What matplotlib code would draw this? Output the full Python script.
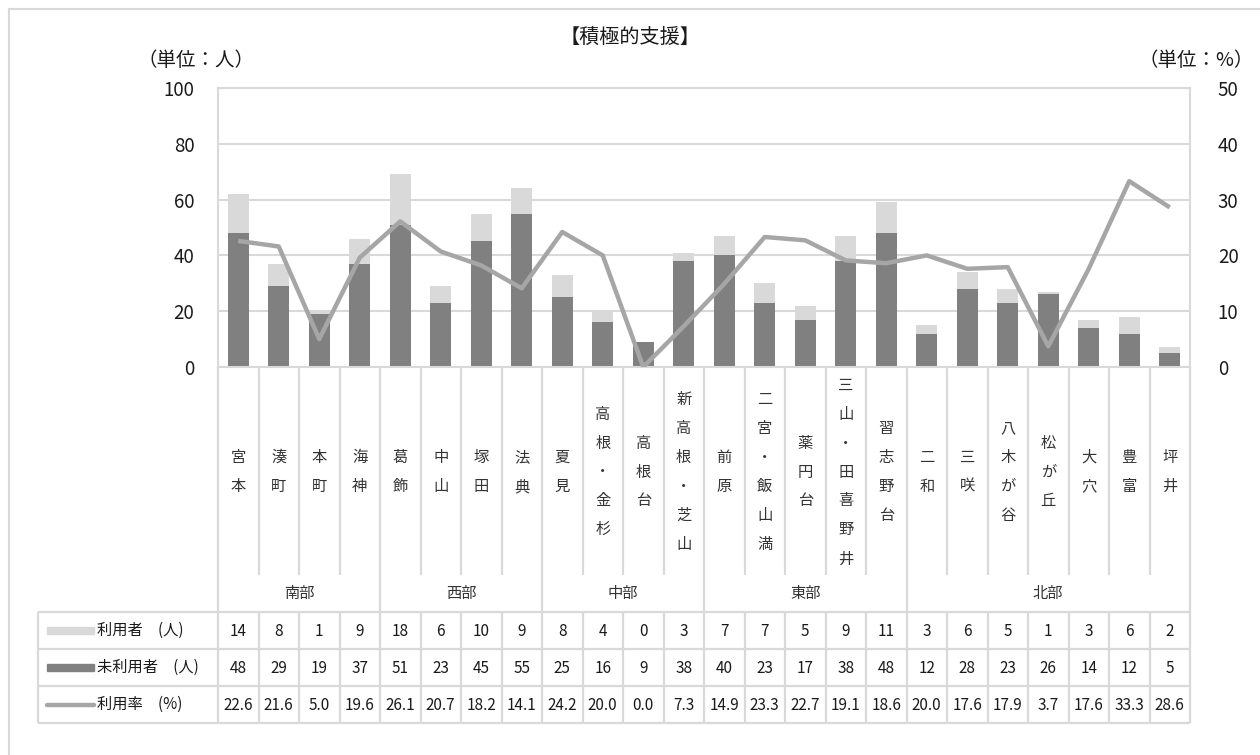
import numpy as np
import matplotlib
matplotlib.use('Agg')
import matplotlib.pyplot as plt
from matplotlib.lines import Line2D
from matplotlib.patches import Rectangle

plt.rcParams['font.family'] = ['Noto Sans CJK JP', 'DejaVu Sans']

# data
areas = ['宮本', '湊町', '本町', '海神', '葛飾', '中山', '塚田', '法典',
         '夏見', '高根・金杉', '高根台', '新高根・芝山', '前原', '二宮・飯山満',
         '薬円台', '三山・田喜野井', '習志野台', '二和', '三咲', '八木が谷',
         '松が丘', '大穴', '豊富', '坪井']
regions = ['南部', '西部', '中部', '東部', '北部']
region_sizes = [4, 4, 4, 5, 7]
users = [14, 8, 1, 9, 18, 6, 10, 9, 8, 4, 0, 3, 7, 7, 5, 9, 11, 3, 6, 5, 1, 3, 6, 2]
non_users = [48, 29, 19, 37, 51, 23, 45, 55, 25, 16, 9, 38, 40, 23, 17, 38, 48,
             12, 28, 23, 26, 14, 12, 5]
rate = [22.6, 21.6, 5.0, 19.6, 26.1, 20.7, 18.2, 14.1, 24.2, 20.0, 0.0, 7.3,
        14.9, 23.3, 22.7, 19.1, 18.6, 20.0, 17.6, 17.9, 3.7, 17.6, 33.3, 28.6]
series_names = ['利用者\u3000(人)', '未利用者\u3000(人)', '利用率\u3000(%)']

C_USER = '#d9d9d9'
C_NON = '#808080'
C_RATE = '#a6a6a6'
C_GRID = '#d9d9d9'
C_TXT = '#1a1a1a'

W, H = 1260, 755
fig = plt.figure(figsize=(W / 100, H / 100), dpi=100)
fig.patch.set_facecolor('white')


def fx(px):
    return px / W


def fy(py):
    return 1 - py / H


# plot area in pixels
L, R, T, B = 218, 1190, 88, 367
ax = fig.add_axes([fx(L), fy(B), fx(R - L), (B - T) / H])
x = np.arange(len(areas))
ax.bar(x, non_users, width=0.52, color=C_NON, zorder=2)
ax.bar(x, users, width=0.52, bottom=non_users, color=C_USER, zorder=2)
ax.set_xlim(-0.5, len(areas) - 0.5)
ax.set_ylim(0, 100)
ax.set_yticks(range(0, 101, 20))
ax.set_xticks([])
ax.grid(axis='y', color=C_GRID, lw=1.5, zorder=0)
ax.tick_params(axis='y', length=0, pad=17, labelsize=13.5, labelcolor=C_TXT)
for s in ax.spines.values():
    s.set_color(C_GRID)
    s.set_linewidth(1.5)

ax2 = ax.twinx()
ax2.plot(x, rate, color=C_RATE, lw=3.2, solid_capstyle='butt', zorder=3)
ax2.set_ylim(0, 50)
ax2.set_yticks(range(0, 51, 10))
ax2.tick_params(axis='y', length=0, pad=20, labelsize=13.5, labelcolor=C_TXT)
for s in ax2.spines.values():
    s.set_visible(False)

# table below the chart
px_per = (R - L) / len(areas)


def tx(px):
    return -0.5 + (px - L) / px_per


TL, TB = 38, 723
tab = fig.add_axes([fx(TL), fy(TB), fx(R - TL), (TB - B) / H])
tab.set_xlim(tx(TL), tx(R))
tab.set_ylim(TB, B)
tab.axis('off')

cat_bottom = 575
row_lines = [612, 649, 686, 723]
lc = dict(color=C_GRID, lw=1.6, clip_on=False, solid_capstyle='butt')

bounds = np.cumsum([0] + region_sizes) - 0.5
for k in range(len(areas) + 1):
    xb = k - 0.5
    if xb in bounds:
        tab.plot([xb, xb], [B, TB], **lc)
    else:
        tab.plot([xb, xb], [B, cat_bottom], **lc)
        tab.plot([xb, xb], [row_lines[0], TB], **lc)
tab.plot([tx(TL), tx(TL)], [row_lines[0], TB], **lc)
for yl in row_lines:
    tab.plot([tx(TL), len(areas) - 0.5], [yl, yl], **lc)

for i, name in enumerate(areas):
    tab.text(i, 472, '\n'.join(name), ha='center', va='center',
             fontsize=11, linespacing=1.92, color='#333333')

for j, reg in enumerate(regions):
    tab.text((bounds[j] + bounds[j + 1]) / 2, 593, reg, ha='center',
             va='center', fontsize=11, color='#333333')

row_mid = [(row_lines[k] + row_lines[k + 1]) / 2 for k in range(3)]
rows = [[str(v) for v in users], [str(v) for v in non_users],
        [f'{v:.1f}' for v in rate]]
for k, vals in enumerate(rows):
    for i, v in enumerate(vals):
        tab.text(i, row_mid[k] + 1, v, ha='center', va='center',
                 fontsize=11, color=C_TXT)
    tab.text(tx(97), row_mid[k], series_names[k], ha='left', va='center',
             fontsize=11, color=C_TXT)

# legend keys
sw0, sw1 = tx(47), tx(94)
tab.add_patch(Rectangle((sw0, row_mid[0] - 3.5), sw1 - sw0, 7,
                        color=C_USER, clip_on=False))
tab.add_patch(Rectangle((sw0, row_mid[1] - 3.5), sw1 - sw0, 7,
                        color=C_NON, clip_on=False))
tab.plot([sw0, sw1], [row_mid[2], row_mid[2]], color=C_RATE, lw=3.2,
         solid_capstyle='round', clip_on=False)

# titles
fig.text(fx(630), fy(37), '【積極的支援】', ha='center', va='center',
         fontsize=14.5, color=C_TXT)
fig.text(fx(196), fy(61), '（単位：人）', ha='center', va='center',
         fontsize=14, color=C_TXT)
fig.text(fx(1254), fy(61), '（単位：%）', ha='right', va='center',
         fontsize=14, color=C_TXT)

# outer frame
fig.add_artist(Line2D([fx(9), fx(9)], [fy(9), 0], color=C_GRID, lw=1.5))
fig.add_artist(Line2D([fx(9), 1], [fy(9), fy(9)], color=C_GRID, lw=1.5))

fig.savefig('out.png', dpi=100, facecolor='white')
